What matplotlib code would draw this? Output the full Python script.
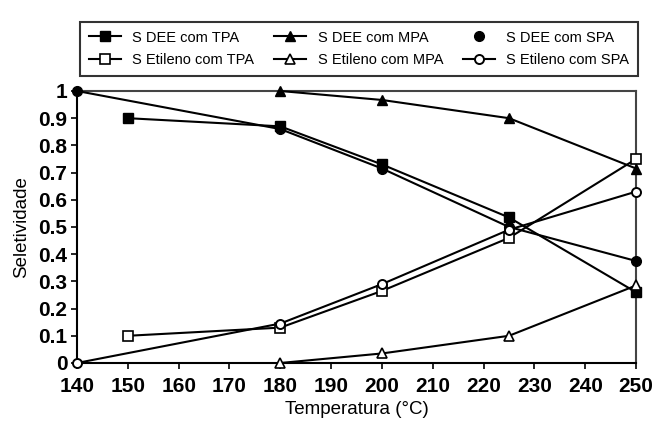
import matplotlib
matplotlib.use("Agg")
import matplotlib.pyplot as plt
from matplotlib.lines import Line2D

plt.rcParams['font.family'] = ['Liberation Sans', 'DejaVu Sans']

temps_tpa = [150, 180, 200, 225, 250]
dee_tpa = [0.90, 0.87, 0.73, 0.535, 0.26]
et_tpa = [0.10, 0.13, 0.265, 0.46, 0.75]

temps_mpa = [180, 200, 225, 250]
dee_mpa = [1.00, 0.967, 0.90, 0.715]
et_mpa = [0.00, 0.035, 0.10, 0.285]

temps_spa = [140, 180, 200, 225, 250]
dee_spa = [1.00, 0.86, 0.715, 0.50, 0.375]
et_spa = [0.00, 0.145, 0.29, 0.49, 0.63]

xticks = list(range(140, 251, 10))
yticks = [0, 0.1, 0.2, 0.3, 0.4, 0.5, 0.6, 0.7, 0.8, 0.9, 1]
ytick_labels = ['0', '0.1', '0.2', '0.3', '0.4', '0.5', '0.6', '0.7', '0.8', '0.9', '1']

fig = plt.figure(figsize=(6.55, 4.24), dpi=100)
ax = fig.add_axes([0.1176, 0.1439, 0.8535, 0.6415])

lw = 1.5
ms = 6.5
common = dict(color='black', lw=lw, clip_on=False, zorder=3)
h1, = ax.plot(temps_tpa, dee_tpa, marker='s', ms=ms, mfc='black', mec='black', label='S DEE com TPA', **common)
h2, = ax.plot(temps_tpa, et_tpa, marker='s', ms=ms, mfc='white', mec='black', mew=1.2, label='S Etileno com TPA', **common)
h3, = ax.plot(temps_mpa, dee_mpa, marker='^', ms=ms + 0.5, mfc='black', mec='black', label='S DEE com MPA', **common)
h4, = ax.plot(temps_mpa, et_mpa, marker='^', ms=ms + 0.5, mfc='white', mec='black', mew=1.2, label='S Etileno com MPA', **common)
h5, = ax.plot(temps_spa, dee_spa, marker='o', ms=ms + 0.5, mfc='black', mec='black', label='S DEE com SPA', **common)
h6, = ax.plot(temps_spa, et_spa, marker='o', ms=ms, mfc='white', mec='black', mew=1.4, label='S Etileno com SPA', **common)

h5_leg = Line2D([], [], color='black', lw=0, marker='o', ms=ms + 0.5, mfc='black', mec='black', label='S DEE com SPA')

ax.set_xlim(140, 250)
ax.set_ylim(0, 1)
ax.set_xticks(xticks)
ax.set_xticklabels([str(t) for t in xticks])
ax.set_yticks(yticks)
ax.set_yticklabels(ytick_labels)
ax.tick_params(axis='both', direction='out', length=4, width=1.2, labelsize=15)
ax.tick_params(axis='x', pad=6)
ax.tick_params(axis='y', pad=3)
for lab in ax.get_xticklabels() + ax.get_yticklabels():
    lab.set_fontweight('bold')
for s in ['left', 'bottom']:
    ax.spines[s].set_linewidth(1.5)
    ax.spines[s].set_color('black')
for s in ['top', 'right']:
    ax.spines[s].set_linewidth(1.5)
    ax.spines[s].set_color('#444444')

ax.set_xlabel('Temperatura (°C)', fontsize=13.5, labelpad=4)
ax.set_ylabel('Seletividade', fontsize=13.5, labelpad=6)

leg = fig.legend(handles=[h1, h2, h3, h4, h5_leg, h6], ncol=3, loc='lower left',
                 bbox_to_anchor=(80 / 655, 1 - 76 / 424, 558 / 655, 68 / 424),
                 mode='expand', frameon=True, fancybox=False, fontsize=10.5,
                 handlelength=2.2, borderaxespad=0, columnspacing=1.0,
                 labelspacing=0.6, borderpad=0.6)
leg.get_frame().set_edgecolor('black')
leg.get_frame().set_linewidth(1.5)

fig.savefig('out.png', dpi=100)
